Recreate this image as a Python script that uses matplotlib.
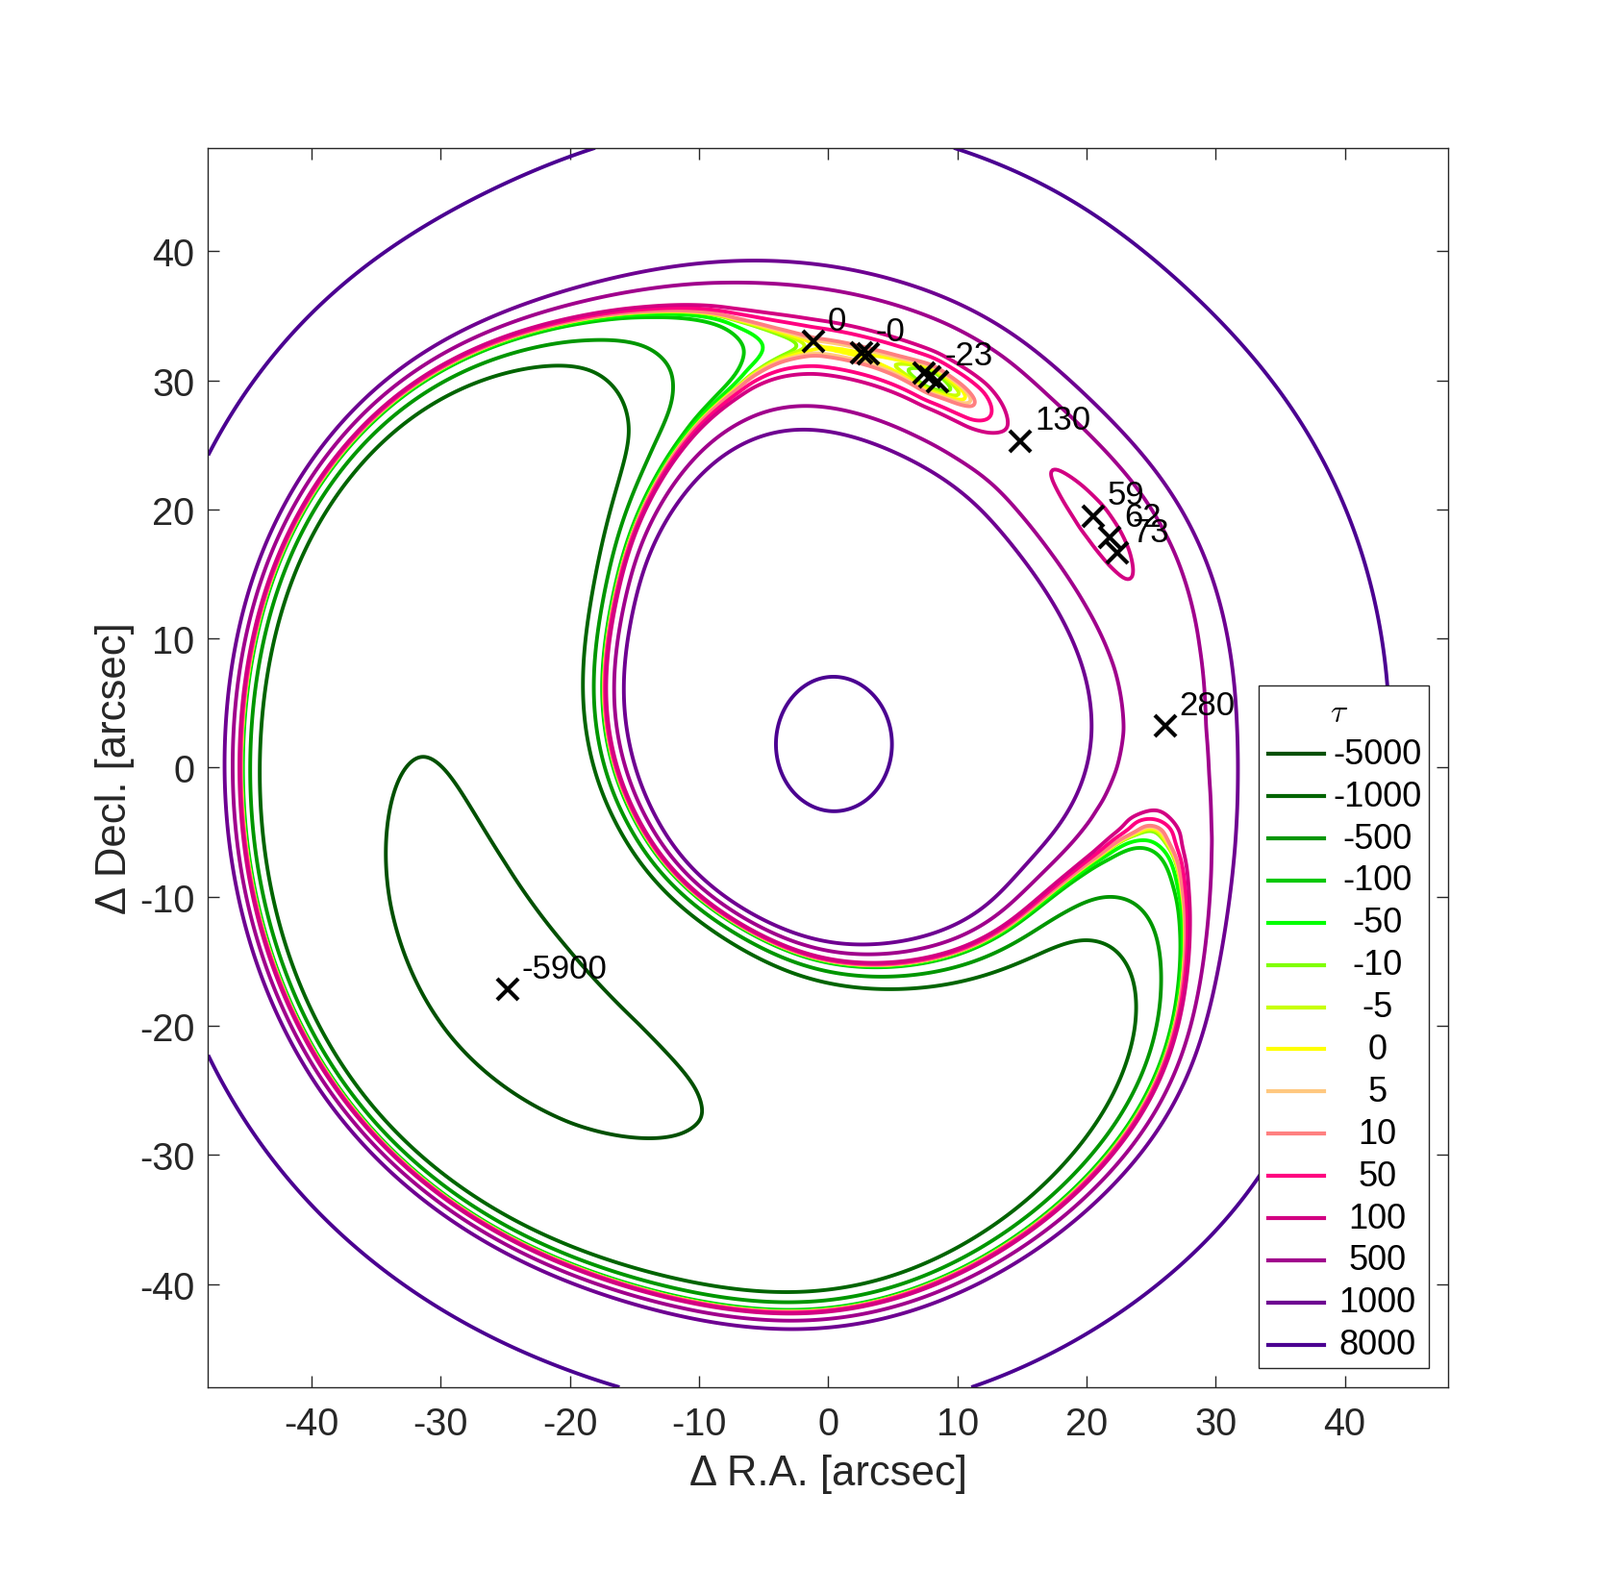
import numpy as np
import matplotlib
matplotlib.use("Agg")
import matplotlib.pyplot as plt
from matplotlib.patches import Rectangle

plt.rcParams['font.family'] = ['Liberation Sans', 'DejaVu Sans']
plt.rcParams['mathtext.fontset'] = 'cm'
plt.rcParams['axes.unicode_minus'] = False

# contour levels (days) and colours, in legend order
levels = [-5000, -1000, -500, -100, -50, -10, -5, 0, 5, 10, 50, 100, 500, 1000, 8000]
level_colors = ['#005000', '#006400', '#009600', '#00c800', '#00ff00', '#80ff00', '#c8ff00',
                '#ffff00', '#ffc880', '#ff8080', '#ff0080', '#d20082', '#a0008c', '#6e0091', '#4b0091']

# lensed images [arcsec] and their delay labels
img_x = [-1.14, 2.6, 3.1, 7.4, 7.9, 8.5, 14.9, 20.5, 21.8, 22.4, 26.1, -24.8]
img_y = [33.0, 32.16, 32.04, 30.6, 30.25, 29.9, 25.3, 19.5, 17.8, 16.6, 3.2, -17.2]
img_lab = ['0', '-0', '', '', '-23', '', '130', '59', '62', '73', '280', '-5900']

# delay surface: valley floor value and valley radius
# along each direction (deg) about the lens centre
floor_ang = [2.7, 15, 29.1, 33.7, 37, 41.2, 46, 51.6, 55, 58.3, 61.6, 64.5, 67, 70, 72.5,
             75.3, 78, 80.5, 84, 87, 90, 93, 95.5, 98, 100.3, 103.1, 108, 113.8, 121.7,
             135, 143, 160, 181.8, 200, 217.2, 235, 250.2, 270, 300, 316, 323.7, 332,
             337, 341.6, 342.8, 344.4, 345.2, 345.8, 346.7, 348.2, 355]
floor_val = [280, 230, 100, 73, 62, 59, 75, 100, 122, 130, 100, 50, 12, -4, -12,
             -23, -12, -5, -1, -0.5, -0.2, 0, -10, -25, -50, -100, -280, -500, -1000,
             -2300, -3300, -4400, -5000, -5600, -5900, -5600, -5000, -4550, -2480, -1560, -1000, -500,
             -250, -100, -50, -10, -5, 0, 50, 100, 220]
ridge_ang = [0, 29, 41, 52, 58, 62, 75, 86, 93, 100, 114, 122, 135, 160, 180, 217,
             250, 270, 300, 316, 324, 332, 345]
ridge_rad = [25.6, 26.3, 26.6, 26.9, 27.4, 28.2, 29.2, 30.2, 31.0, 31.6, 31.8, 31.6, 32.3, 32.3, 31.8, 31.8,
             30.5, 30.8, 29.0, 28.0, 26.5, 25.8, 25.6]

lens_x, lens_y = 0.45, 1.8
wall = 25.0            # days / arcsec^2
wall_far = 1.0e-5      # extra steepening far outside the ring
core_s, core_l = 8.3, 14.0
core_ax, core_ay = 1.11, 0.96
floor_w = 3.5          # radial reach of the small floor features [arcsec]


def periodic(ang, val, sigma):
    a = np.arange(0, 360, 0.25)
    v = np.interp(a, ang, val, period=360)
    n = int(4 * sigma / 0.25)
    k = np.exp(-0.5 * (np.arange(-n, n + 1) * 0.25 / sigma) ** 2)
    k /= k.sum()
    vv = np.concatenate([v[-n:], v, v[:n]])
    return a, np.convolve(vv, k, mode='valid')


g = np.linspace(-48, 48, 801)
X, Y = np.meshgrid(g, g)
dx, dy = X - lens_x, Y - lens_y
r = np.hypot(dx, dy)
phi = np.degrees(np.arctan2(dy, dx)) % 360

a, v_fine = periodic(floor_ang, floor_val, 0.8)
_, v_broad = periodic(floor_ang, floor_val, 8.0)
_, rs = periodic(ridge_ang, ridge_rad, 8.0)
Vf = np.interp(phi, a, v_fine, period=360)
Vb = np.interp(phi, a, v_broad, period=360)
R = np.interp(phi, a, rs, period=360)

w = 1 - np.exp(-(r / 13.0) ** 6)
R = rs.mean() + w * (R - rs.mean())
V = Vb + (Vf - Vb) * np.exp(-((r - R) / floor_w) ** 2)
V = v_broad.mean() + w * (V - v_broad.mean())
r_core = np.hypot(core_ax * dx, core_ay * dy)
r_mix = r_core + w * (r - r_core)
rho = np.sqrt(r_mix ** 2 + core_s ** 2 * np.exp(-(r_mix / core_l) ** 2))
tau = V + wall * (rho - R) ** 2 + wall_far * np.clip(r - R, 0, None) ** 6

fig = plt.figure(figsize=(8.32, 8.29), dpi=200)
ax = fig.add_axes([0.1301, 0.1291, 0.775, 0.7775])
ax.contour(X, Y, tau, levels=levels, colors=level_colors, linewidths=1.4)

ax.plot(img_x, img_y, 'x', color='black', ms=8, mew=1.5, zorder=4)
for x, y, t in zip(img_x, img_y, img_lab):
    if t:
        ax.text(x + 1.1, y + 0.95, t, fontsize=12.5, ha='left', va='baseline', zorder=4)

ax.set_xlim(-48, 48)
ax.set_ylim(-48, 48)
ax.set_xticks(range(-40, 41, 10))
ax.set_yticks(range(-40, 41, 10))
ax.tick_params(direction='in', top=True, right=True, length=4.2, width=0.5,
               labelsize=14.3, colors='#262626')
ax.tick_params(axis='x', pad=7)
ax.tick_params(axis='y', pad=5)
for s in ax.spines.values():
    s.set_linewidth(0.5)
    s.set_color('#262626')
ax.set_xlabel('Δ R.A. [arcsec]', fontsize=15.7, color='#262626', labelpad=4)
ax.set_ylabel('Δ Decl. [arcsec]', fontsize=15.7, color='#262626', labelpad=2)

# legend box
lx0, lx1, ly0, ly1 = 0.847, 0.9845, 0.0155, 0.5663
ax.add_patch(Rectangle((lx0, ly0), lx1 - lx0, ly1 - ly0, transform=ax.transAxes,
                       facecolor='white', edgecolor='#262626', lw=0.5, zorder=5))
ax.text(0.9117, 0.5438, r'$\tau$', transform=ax.transAxes, ha='center', va='center',
        fontsize=12, zorder=6)
for i, (lev, col) in enumerate(zip(levels, level_colors)):
    yy = 0.511 - i * 0.03405
    ax.plot([0.855, 0.9001], [yy, yy], transform=ax.transAxes, color=col, lw=1.5,
            zorder=6, clip_on=False)
    ax.text(0.943, yy, str(lev), transform=ax.transAxes, ha='center', va='center',
            fontsize=13, zorder=6)

fig.savefig('out.png', dpi=200, facecolor='white')
